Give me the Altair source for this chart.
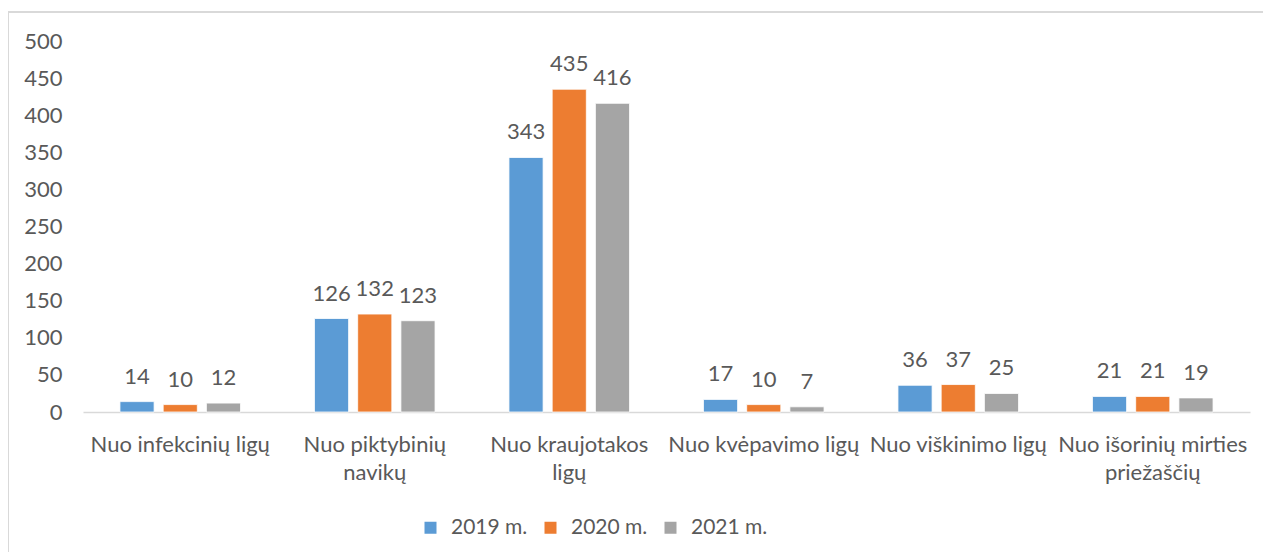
import altair as alt
import pandas as pd

categories = [
    "Nuo infekcinių ligų",
    "Nuo piktybinių|navikų",
    "Nuo kraujotakos|ligų",
    "Nuo kvėpavimo ligų",
    "Nuo viškinimo ligų",
    "Nuo išorinių mirties|priežaščių",
]
years = ["2019 m.", "2020 m.", "2021 m."]
v2019 = [14, 126, 343, 17, 36, 21]
v2020 = [10, 132, 435, 10, 37, 21]
v2021 = [12, 123, 416, 7, 25, 19]
colors = ["#5B9BD5", "#ED7D31", "#A5A5A5"]

rows = []
for yr, vals in zip(years, [v2019, v2020, v2021]):
    for c, v in zip(categories, vals):
        rows.append({"cat": c, "year": yr, "value": v})
df = pd.DataFrame(rows)

FONT = "Lato"
FS = 22
TXT = "#595959"

x = alt.X("cat:N", sort=categories, title=None,
          scale=alt.Scale(paddingInner=0.38, paddingOuter=0.19),
          axis=alt.Axis(labelExpr="split(datum.label, '|')", labelAngle=0,
                        labelFontSize=FS, labelColor=TXT, labelFont=FONT,
                        labelPadding=22, labelLineHeight=28, ticks=False,
                        domainColor="#D9D9D9", domainWidth=1.5, labelLimit=250))
xo = alt.XOffset("year:N", sort=years, scale=alt.Scale(paddingInner=0.21))
y = alt.Y("value:Q", title=None,
          scale=alt.Scale(domain=[0, 500], nice=False),
          axis=alt.Axis(values=list(range(0, 501, 50)), grid=False, domain=False,
                        ticks=False, labelFontSize=FS, labelColor=TXT,
                        labelFont=FONT, labelPadding=21))

base = alt.Chart(df)
bars = base.mark_bar(stroke="white", strokeWidth=0.8).encode(
    x=x, xOffset=xo, y=y,
    color=alt.Color("year:N", sort=years, title=None,
                    scale=alt.Scale(domain=years, range=colors),
                    legend=alt.Legend(orient="none", direction="horizontal",
                                      legendX=337, legendY=476,
                                      symbolType="square", symbolSize=144,
                                      symbolStrokeWidth=0,
                                      labelFontSize=21, labelColor=TXT,
                                      labelFont=FONT, columnPadding=12,
                                      labelOffset=10)),
)
labels = base.mark_text(baseline="bottom", dy=-13, fontSize=FS, color=TXT,
                        font=FONT).encode(x=x, xOffset=xo, y=y,
                                          text=alt.Text("value:Q"))

frame = alt.Chart(pd.DataFrame({"k": [0]})).mark_rect(
    fill=None, stroke="#D9D9D9", strokeWidth=2).encode(
    x=alt.value(-75), x2=alt.value(1400), y=alt.value(-29), y2=alt.value(700))

chart = alt.layer(frame, bars, labels).properties(
    width=1167, height=371,
    autosize=alt.AutoSizeParams(type="none"),
    padding={"left": 75, "top": 33, "right": 13, "bottom": 140},
).configure_view(stroke=None)

chart.save("out.html", embed_options={"renderer": "svg", "actions": False})
